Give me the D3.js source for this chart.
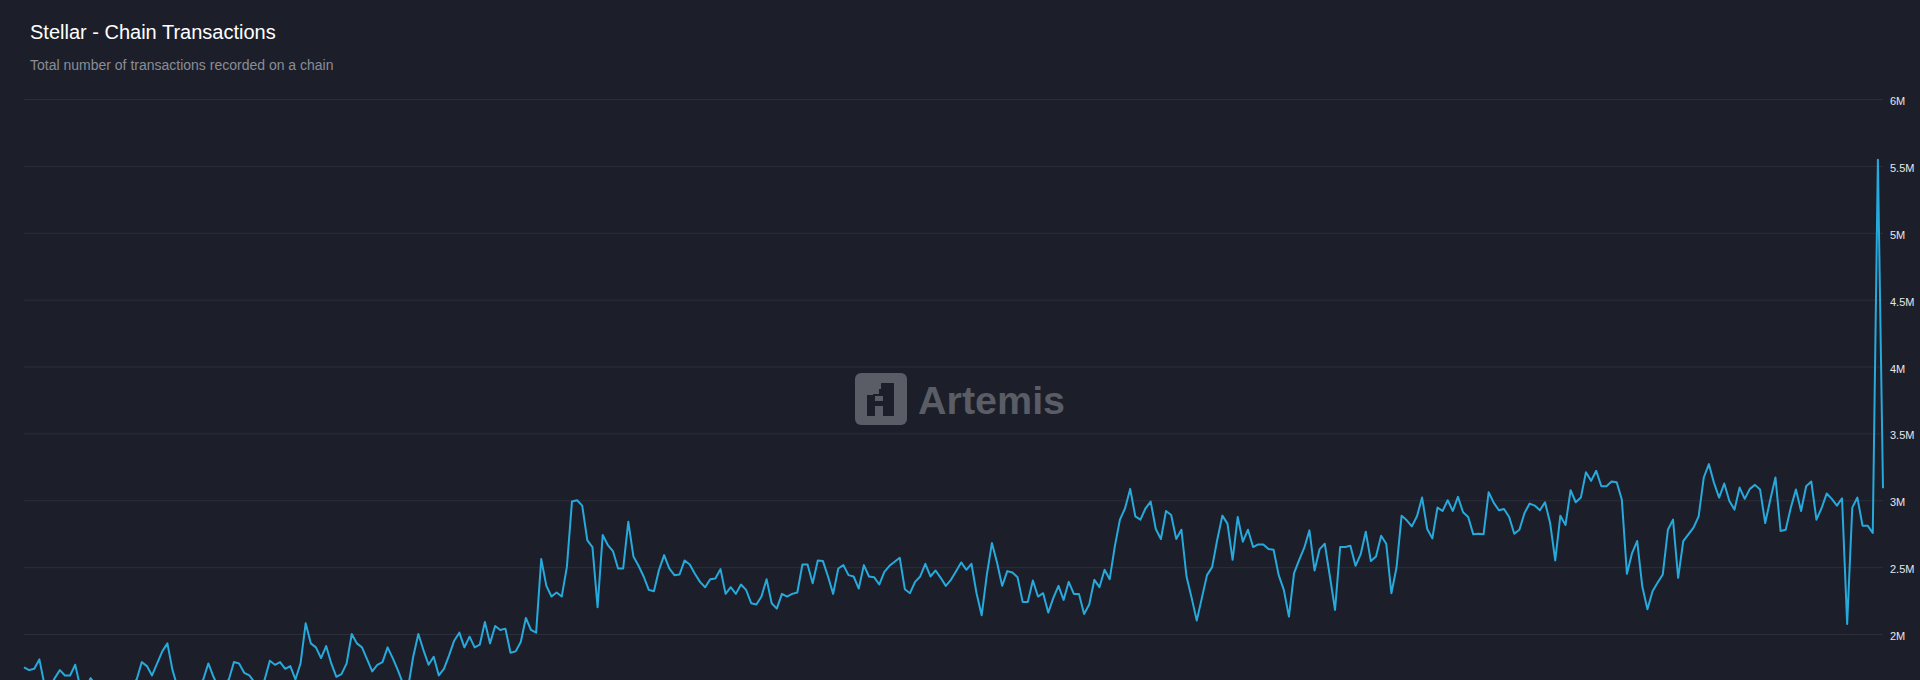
<!DOCTYPE html>
<html><head><meta charset="utf-8">
<script src="https://cdn.jsdelivr.net/npm/d3@7"></script>
<style>
html,body{margin:0;padding:0;background:#1c1f2a;overflow:hidden;}
svg{display:block;}
</style></head>
<body><svg id="chart" width="1920" height="680"></svg>
<script>
const chartTitle = "Stellar - Chain Transactions";
const chartSubtitle = "Total number of transactions recorded on a chain";
const watermarkText = "Artemis";
const yTickValues = [2e6, 2.5e6, 3e6, 3.5e6, 4e6, 4.5e6, 5e6, 5.5e6, 6e6];
const yTickLabels = ["2M", "2.5M", "3M", "3.5M", "4M", "4.5M", "5M", "5.5M", "6M"];
// daily transactions, in millions
const txMillions = [
1.75,1.73,1.74,1.81,1.62,1.60,1.67,1.73,1.69,1.69,1.77,1.60,1.58,1.67,1.62,1.56,1.55,1.60,1.58,1.55,
1.60,1.62,1.66,1.79,1.76,1.69,1.78,1.87,1.93,1.73,1.60,1.55,1.55,1.55,1.60,1.66,1.78,1.68,1.60,1.62,
1.66,1.79,1.78,1.71,1.69,1.64,1.60,1.66,1.80,1.77,1.79,1.74,1.76,1.66,1.78,2.08,1.93,1.90,
1.82,1.91,1.78,1.68,1.70,1.78,2.00,1.93,1.90,1.81,1.72,1.77,1.79,1.90,1.82,1.73,1.63,1.60,1.83,2.00,
1.88,1.77,1.83,1.69,1.74,1.84,1.95,2.01,1.90,1.98,1.90,1.92,2.09,1.93,2.06,2.03,2.04,1.86,1.87,1.94,
2.12,2.03,2.01,2.56,2.36,2.28,2.31,2.28,2.50,2.99,3.00,2.96,2.70,2.65,2.20,
2.74,2.665,2.62,2.49,2.49,2.84,2.58,2.51,2.43,2.33,2.32,2.48,2.59,2.49,2.44,2.445,2.55,2.52,2.45,2.39,
2.35,2.41,2.415,2.485,2.30,2.35,2.30,2.37,2.33,2.23,2.22,2.28,2.41,2.23,2.19,2.30,2.28,2.30,2.31,2.52,
2.52,2.38,2.55,2.545,2.43,2.30,2.49,2.515,2.44,2.43,2.34,2.515,2.43,2.425,2.37,2.465,2.51,2.54,
2.57,2.335,2.305,2.39,2.43,2.525,2.43,2.475,2.42,2.36,2.405,2.47,2.535,2.48,2.525,2.305,2.14,2.44,2.68,2.535,
2.36,2.47,2.46,2.425,2.24,2.24,2.40,2.28,2.305,2.16,2.27,2.36,2.255,2.39,2.30,2.30,2.15,2.22,2.405,2.35,
2.48,2.41,2.655,2.855,2.94,3.085,2.88,2.855,2.94,2.99,2.785,2.71,2.92,2.89,2.71,2.78,2.43,2.27,2.10,2.27,
2.44,2.50,2.705,
2.885,2.825,2.555,2.875,2.69,2.78,2.65,2.67,2.67,2.635,2.63,2.44,2.33,2.13,2.455,2.555,2.645,2.775,2.475,2.635,
2.675,2.43,2.18,2.65,2.65,2.66,2.51,2.595,2.765,2.545,2.58,2.735,2.675,2.305,2.495,2.885,2.85,2.805,2.88,3.02,
2.785,2.715,2.945,2.92,3.0,2.92,3.025,2.91,2.875,2.745,2.75,2.745,3.06,2.98,2.925,
2.935,2.875,2.75,2.78,2.905,2.975,2.96,2.925,2.985,2.83,2.55,2.885,2.815,3.075,2.985,3.02,3.21,3.145,3.22,3.105,
3.105,3.14,3.135,3.005,2.45,2.605,2.695,2.355,2.185,2.32,2.385,2.445,2.78,2.855,2.42,2.695,2.745,2.795,2.88,3.17,
3.27,3.13,3.02,3.125,2.995,2.93,3.095,3.01,3.085,3.115,3.08,2.83,3.005,3.17,2.77,2.78,2.945,3.08,2.92,
3.105,3.14,2.855,2.94,3.05,3.01,2.96,3.015,2.075,2.945,3.02,2.81,2.81,2.755,5.545,3.09
];

const W = 1920, H = 680;
const svg = d3.select("#chart");

const plotLeft = 24, plotRight = 1883;
const x = d3.scaleLinear().domain([0, txMillions.length - 1]).range([plotLeft, plotRight]);
const y = d3.scaleLinear().domain([2e6, 6e6]).range([634, 99]);

svg.append("rect").attr("width", W).attr("height", H).attr("fill", "#1c1f2a");

// title
svg.append("text").attr("x", 30).attr("y", 39)
  .attr("font-family", "Liberation Sans, Arial, sans-serif").attr("font-size", 20)
  .attr("fill", "#ffffff").text(chartTitle);
svg.append("text").attr("x", 30).attr("y", 70)
  .attr("font-family", "Liberation Sans, Arial, sans-serif").attr("font-size", 14)
  .attr("fill", "#8a8d96").text(chartSubtitle);

// y axis with gridlines
const yAxis = d3.axisRight(y)
  .tickValues(yTickValues)
  .tickFormat((d, i) => yTickLabels[i])
  .tickSize(-(plotRight - plotLeft))
  .tickPadding(7);
const gy = svg.append("g").attr("transform", `translate(${plotRight},0)`).call(yAxis);
gy.select(".domain").remove();
gy.selectAll(".tick line").attr("stroke", "#2b2f3b").attr("stroke-width", 1);
gy.selectAll(".tick text")
  .attr("font-family", "Liberation Sans, Arial, sans-serif")
  .attr("font-size", 11).attr("dy", "0.5em").attr("fill", "#e6e7ec");

// watermark
const wm = svg.append("g").attr("transform", "translate(855,373)");
wm.append("rect").attr("width", 52).attr("height", 52).attr("rx", 6).attr("fill", "#5a5d66");
wm.append("path").attr("d", "M26,10 H39 V43 H28 V33 H20 V43 H12 V22 H18 V16 H26 Z").attr("fill", "#1c1f2a");
wm.append("rect").attr("x", 20).attr("y", 23).attr("width", 8).attr("height", 5).attr("fill", "#5a5d66");
wm.append("rect").attr("x", 18).attr("y", 16).attr("width", 6).attr("height", 5).attr("fill", "#5a5d66");
svg.append("text").attr("x", 918).attr("y", 414)
  .attr("font-family", "Liberation Sans, Arial, sans-serif").attr("font-weight", "bold")
  .attr("font-size", 39.5).attr("fill", "#5a5d66").text(watermarkText);

// line
const line = d3.line()
  .x((d, i) => x(i))
  .y(d => y(d * 1e6));
svg.append("path").datum(txMillions)
  .attr("d", line)
  .attr("fill", "none")
  .attr("stroke", "#27a9dc")
  .attr("stroke-width", 2)
  .attr("stroke-linejoin", "round");
</script>
</body></html>
